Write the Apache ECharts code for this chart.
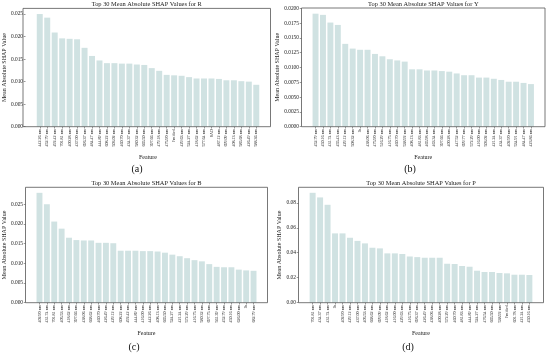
<!DOCTYPE html>
<html><head><meta charset="utf-8">
<script src="https://cdn.jsdelivr.net/npm/echarts@6/dist/echarts.min.js"></script>
<style>html,body{margin:0;padding:0;background:#fff}#c{width:550px;height:354px}</style>
</head><body><div id="c"></div>
<script>
const featuresR = ['442.26 nm','452.79 nm','492.42 nm','701.81 nm','400.28 nm','437.00 nm','696.37 nm','484.47 nm','444.89 nm','608.22 nm','503.02 nm','460.70 nm','434.37 nm','580.32 nm','665.50 nm','397.66 nm','479.18 nm','475.90 nm','Fmified','429.63 nm','524.27 nm','418.62 nm','577.64 nm','SAD','487.12 nm','699.09 nm','408.13 nm','585.68 nm','426.49 nm','588.36 nm'];
const valuesR = [0.0250,0.0242,0.0209,0.0196,0.0195,0.0194,0.0175,0.0157,0.0147,0.0141,0.0141,0.0140,0.0140,0.0138,0.0137,0.0130,0.0124,0.0115,0.0114,0.0113,0.0110,0.0107,0.0107,0.0107,0.0106,0.0103,0.0103,0.0101,0.0100,0.0093];
const ticksR = [0,0.005,0.010,0.015,0.020,0.025];

const featuresY = ['452.79 nm','450.16 nm','431.74 nm','455.43 nm','429.12 nm','508.32 nm','Ib','438.06 nm','475.90 nm','516.29 nm','416.75 nm','460.70 nm','538.92 nm','408.13 nm','481.83 nm','465.98 nm','463.34 nm','397.66 nm','400.28 nm','447.52 nm','699.77 nm','572.29 nm','416.00 nm','503.02 nm','421.24 nm','434.37 nm','402.90 nm','534.91 nm','484.47 nm','423.86 nm'];
const valuesY = [0.0191,0.0189,0.0176,0.0172,0.0140,0.0132,0.0130,0.0130,0.0123,0.0119,0.0114,0.0112,0.0110,0.0097,0.0097,0.0095,0.0095,0.0094,0.0093,0.0090,0.0087,0.0087,0.0083,0.0083,0.0081,0.0079,0.0076,0.0076,0.0074,0.0072];
const ticksY = [0,0.0025,0.005,0.0075,0.010,0.0125,0.015,0.0175,0.020];

const featuresB = ['402.90 nm','431.74 nm','701.81 nm','405.53 nm','418.62 nm','397.66 nm','438.06 nm','668.62 nm','460.70 nm','426.49 nm','429.12 nm','608.22 nm','492.42 nm','444.89 nm','416.00 nm','442.26 nm','408.13 nm','665.50 nm','524.27 nm','421.24 nm','572.29 nm','416.75 nm','580.32 nm','697.75 nm','561.39 nm','452.79 nm','450.16 nm','626.00 nm','Ib','682.79 nm'];
const valuesB = [0.0279,0.0250,0.0206,0.0188,0.0165,0.0159,0.0158,0.0158,0.0152,0.0152,0.0151,0.0132,0.0132,0.0132,0.0131,0.0131,0.0130,0.0127,0.0122,0.0118,0.0113,0.0108,0.0105,0.0098,0.0091,0.0090,0.0090,0.0084,0.0082,0.0081];
const ticksB = [0,0.005,0.010,0.015,0.020,0.025];

const featuresP = ['701.81 nm','434.37 nm','431.74 nm','Ib','402.90 nm','429.12 nm','437.00 nm','405.53 nm','668.62 nm','699.09 nm','418.62 nm','416.00 nm','429.63 nm','416.75 nm','696.37 nm','426.49 nm','438.06 nm','400.28 nm','572.29 nm','460.70 nm','481.83 nm','444.89 nm','524.27 nm','476.54 nm','665.50 nm','538.92 nm','Fmified','601.78 nm','421.24 nm','450.16 nm'];
const valuesP = [0.0880,0.0843,0.0784,0.0555,0.0555,0.0520,0.0495,0.0475,0.0440,0.0435,0.0395,0.0395,0.0390,0.0370,0.0365,0.0360,0.0360,0.0360,0.0312,0.0310,0.0294,0.0288,0.0256,0.0246,0.0246,0.0238,0.0235,0.0224,0.0224,0.0222];
const ticksP = [0,0.02,0.04,0.06,0.08];

const FONT = "'Liberation Serif','DejaVu Serif',serif";
const TXT = '#1a1a1a';
const LINE = '#555';
const BAR = '#d0e2e2';

const panels = [
  {name:'R', f:featuresR, v:valuesR, ticks:ticksR, dec:3, max:0.02625, fr:{l:23, r:270.5, t:8.4, b:126.7}, sub:'(a)', sx:137, sy:169},
  {name:'Y', f:featuresY, v:valuesY, ticks:ticksY, dec:4, max:0.02006, fr:{l:301.5, r:545, t:8.0, b:126.7}, sub:'(b)', sx:410, sy:169},
  {name:'B', f:featuresB, v:valuesB, ticks:ticksB, dec:3, max:0.0293, fr:{l:25.5, r:267.5, t:187.3, b:302.7}, sub:'(c)', sx:134, sy:347},
  {name:'P', f:featuresP, v:valuesP, ticks:ticksP, dec:2, max:0.0924, fr:{l:298.5, r:543.5, t:187.3, b:302.7}, sub:'(d)', sx:408, sy:347}
];

const grid = [], xAxis = [], yAxis = [], series = [], graphic = [];
panels.forEach((p, i) => {
  const fr = p.fr, W = fr.r - fr.l, H = fr.b - fr.t;
  const u = W / 32.78, off = 1.39 * u;
  const gFrame = grid.length;
  grid.push({left: fr.l, top: fr.t, width: W, height: H, show: true, borderColor: LINE, borderWidth: 0.8, backgroundColor: 'transparent', z: 10});
  xAxis.push({gridIndex: gFrame, type: 'value', show: false, min: 0, max: 1});
  yAxis.push({gridIndex: gFrame, type: 'value', show: false, min: 0, max: 1});
  const gBar = grid.length;
  grid.push({left: fr.l + off, top: fr.t, width: W - 2 * off, height: H});
  const xi = xAxis.length, yi = yAxis.length;
  xAxis.push({
    gridIndex: gBar, type: 'category', data: p.f,
    axisLine: {show: false},
    axisTick: {show: true, length: 1.8, alignWithLabel: true, lineStyle: {color: LINE, width: 0.6}},
    axisLabel: {interval: 0, rotate: 90, fontSize: 4.1, margin: 2.4, color: TXT, fontFamily: FONT},
    name: 'Feature', nameLocation: 'middle', nameGap: 27.5,
    nameTextStyle: {fontSize: 6, color: TXT, fontFamily: FONT}
  });
  yAxis.push({
    gridIndex: gBar, type: 'value', min: 0, max: p.max, offset: off,
    axisLine: {show: false},
    splitLine: {show: false},
    axisTick: {show: true, length: 1.8, customValues: p.ticks, lineStyle: {color: LINE, width: 0.6}},
    axisLabel: {customValues: p.ticks, fontSize: 5.4, margin: 2.5, color: TXT, fontFamily: FONT,
      formatter: v => Number(v).toFixed(p.dec)},
    name: 'Mean Absolute SHAP Value', nameLocation: 'middle', nameRotate: 90, nameGap: 16,
    nameTextStyle: {fontSize: 6, color: TXT, fontFamily: FONT}
  });
  series.push({type: 'bar', xAxisIndex: xi, yAxisIndex: yi, data: p.v, barCategoryGap: '20%',
    itemStyle: {color: BAR}, silent: true, animation: false});
  graphic.push({type: 'text', x: (fr.l + fr.r) / 2, y: fr.t - 3.6,
    style: {text: 'Top 30 Mean Absolute SHAP Values for ' + p.name, fontSize: 6.4, fontFamily: FONT, fill: TXT, align: 'center', verticalAlign: 'middle'}});
  graphic.push({type: 'text', x: p.sx, y: p.sy,
    style: {text: p.sub, fontSize: 10, fontFamily: FONT, fill: '#111', align: 'center', verticalAlign: 'middle'}});
});

const chart = echarts.init(document.getElementById('c'), null, {renderer: 'canvas'});
chart.setOption({animation: false, backgroundColor: '#fff', grid, xAxis, yAxis, series, graphic});
</script>
</body></html>
